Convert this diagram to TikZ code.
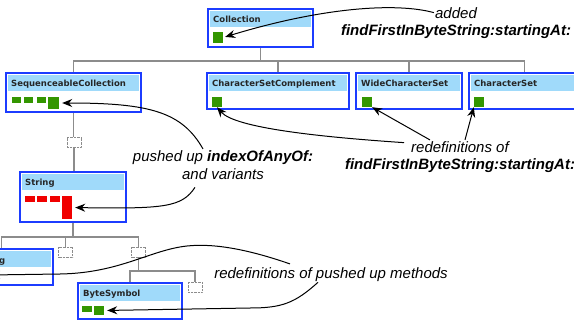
\documentclass[tikz,border=0pt]{standalone}
\usepackage{fontspec}
\usepackage{tikz}
\usetikzlibrary{calc,arrows.meta}
\newfontfamily\notefont{Liberation Sans}
\newfontfamily\titlefont{DejaVu Sans}
\definecolor{boxblue}{RGB}{28,60,255}
\definecolor{headblue}{RGB}{160,218,250}
\definecolor{methgreen}{RGB}{51,150,0}
\definecolor{methred}{RGB}{240,0,0}
\definecolor{treegray}{RGB}{140,140,140}
\tikzset{classbox/.style={draw=boxblue,line width=2pt,fill=white,inner sep=0pt}}
\tikzset{headband/.style={fill=headblue}}
\tikzset{classname/.style={anchor=base west,inner sep=0pt,text=black!85,font=\titlefont\bfseries\fontsize{8.5}{10}\selectfont}}
\tikzset{meth/.style={fill=methgreen,inner sep=0pt,minimum width=10,minimum height=10}}
\tikzset{redmeth/.style={meth,fill=methred}}
\tikzset{stub/.style={draw=treegray,densely dotted,fill=white,minimum width=14,minimum height=10,inner sep=0pt}}
\tikzset{tree/.style={draw=treegray,line width=1.2pt}}
\tikzset{note/.style={anchor=base,inner sep=1pt,font=\notefont\itshape\fontsize{15}{18}\selectfont}}
\tikzset{callout/.style={draw=black,line width=1pt,-{Stealth[length=10pt,width=8pt]}}}
% box with a header band and a title
\newcommand{\umlclass}[6]{%
  \node[classbox,minimum width=#4,minimum height=#5] (#1) at (#2,#3) {};
  \fill[headband] ($(#1.north west)+(3,3)$) rectangle ($(#1.north east)+(-3,19)$);
  \node[classname] (#1-name) at ($(#1.north west)+(6,14)$) {#6};
}

\begin{document}
\begin{tikzpicture}[x=1pt,y=-1pt]
    \useasboundingbox (0,0) rectangle (574,324);
    % setup the classes
    \umlclass{coll}{260.5}{28}{105}{38}{Collection}
    \umlclass{seq}{73.5}{92.5}{135}{39}{SequenceableCollection}
    \umlclass{csc}{278}{91}{142}{36}{CharacterSetComplement}
    \umlclass{wcs}{409}{91}{106}{36}{WideCharacterSet}
    \umlclass{cs}{524.5}{91}{111}{36}{CharacterSet}
    \umlclass{str}{73}{197}{106}{50}{String}
    \umlclass{bstr}{1.5}{267}{103}{36}{}
    \node[classname] (bstr-g) at (-1,263) {g};
    \umlclass{bsym}{130}{301}{104}{36}{ByteSymbol}

    % methods
    \node[meth,minimum height=11] (collm) at (218,37.5) {};
    \foreach \x [count=\i] in {16.5,28.5,41.5}
    {
        \node[meth,minimum width=9,minimum height=6] (seqs\i) at (\x,100) {};
    }
    \node[meth,minimum width=11,minimum height=12] (seqm) at (53.5,103) {};
    \node[meth] (cscm) at (217,102) {};
    \node[meth] (wcsm) at (367,102) {};
    \node[meth] (csm) at (479,102) {};
    \foreach \x [count=\i] in {30,42,55}
    {
        \node[redmeth,minimum height=6] (strs\i) at (\x,199) {};
    }
    \node[redmeth,minimum height=23] (strbig) at (67,207.5) {};
    \node[meth] (bstrm) at (-15,275) {};
    \node[meth,minimum height=6] (bsyms) at (87,309) {};
    \node[meth,minimum height=9] (bsymbig) at (99,310.5) {};

    % hidden subclasses
    \node[stub] (stub1) at (74,142.5) {};
    \node[stub] (stub2) at (65.5,252) {};
    \node[stub] (stub3) at (138.5,252) {};
    \node[stub] (stub4) at (195,287) {};

    % hierarchy lines
    \coordinate (bus1) at (262,61);
    \coordinate (bus2) at (73,237);
    \coordinate (bus3) at (139,271);
    \draw[tree] (coll.south) -- (coll.south |- bus1);
    \draw[tree] (seq.north) |- (cs.north |- bus1) -- (cs.north);
    \foreach \n in {csc,wcs}
    {
        \draw[tree] (\n.north) -- (\n.north |- bus1);
    }
    \draw[tree] (seq.south) -- (seq.south |- stub1.north);
    \draw[tree] (stub1.south) -- (stub1.south |- str.north);
    \draw[tree] (str.south) -- (str.south |- bus2);
    \draw[tree] (bstr.north) |- (stub3.north |- bus2) -- (stub3.north);
    \draw[tree] (stub2.north) -- (stub2.north |- bus2);
    \draw[tree] (stub3.south) -- (stub3.south |- bus3);
    \draw[tree] (bsym.north) |- (stub4.north |- bus3) -- (stub4.north);

    % notes
    \node[note] (addw) at (456,18) {added};
    \node[note] (addm) at (456,35) {\bfseries findFirstInByteString:startingAt:};
    \node[note] (push1) at (223,161) {pushed up \textbf{indexOfAnyOf:}};
    \node[note] (push2) at (223,179) {and variants};
    \node[note] (redef1) at (460,152) {redefinitions of};
    \node[note] (redef2) at (460,169) {\bfseries findFirstInByteString:startingAt:};
    \node[note] (pmeth) at (331,278) {redefinitions of pushed up methods};

    % callouts
    \draw[callout,shorten >=2pt] (addw.west) .. controls (395,2) and (320,8) .. (collm.east);
    \draw[callout,shorten >=3pt] ($(push1.north)+(-20,0)$) .. controls (182,112) and (150,103) .. (seqm.east);
    \draw[callout,shorten >=3pt] ($(push2.south)+(-28,7)$) .. controls (182,207) and (165,209) .. (strbig.east);
    \draw[callout] ($(redef1.west)+(-6,-4)$) .. controls (320,137) and (235,128) .. (cscm.south);
    \draw[callout] ($(redef1.north)+(-30,0)$) -- (wcsm.south east);
    \draw[callout] ($(redef1.north)+(5,0)$) -- (csm.south west);
    \draw[callout] ($(pmeth.north)+(-41,-2)$) .. controls (250,250) and (215,243) .. (187,246)
        .. controls (150,250) and (120,273) .. (60,274) -- (bstrm.east);
    \draw[callout,shorten >=3pt] ($(pmeth.south)+(-13,0)$) .. controls (295,303) and (282,308) .. (250,308) -- (bsymbig.east);
\end{tikzpicture}
\end{document}
